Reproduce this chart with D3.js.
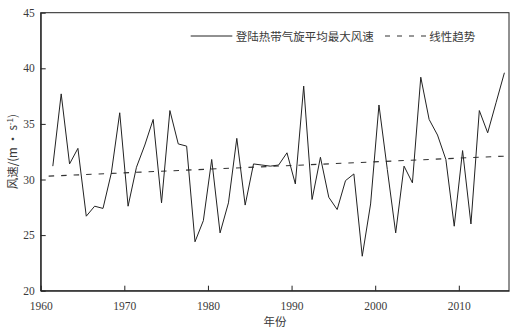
<!DOCTYPE html>
<html><head>
<meta charset="utf-8">
<title>登陆热带气旋平均最大风速</title>
<style>
  body { margin: 0; background: #fff; }
  svg text { fill: #3a3a3a; }
  .num { font-family: "Liberation Serif", "DejaVu Serif", serif; font-size: 11.5px; }
  .cjk { font-family: "Noto Sans CJK SC", sans-serif; font-size: 11.5px; }
  .domain, .tick line { stroke: #222; }
</style>
<script src="https://d3js.org/d3.v7.min.js"></script>
</head>
<body>
<div id="chart"></div>
<script>
// yearly values
const years = d3.range(1961, 2016);
const speed = [
  31.2, 37.7, 31.4, 32.8, 26.7, 27.6, 27.4, 30.6, 36.0, 27.6,
  31.1, 33.1, 35.4, 27.9, 36.2, 33.2, 33.0, 24.4, 26.3, 31.8,
  25.2, 27.9, 33.7, 27.7, 31.4, 31.3, 31.2, 31.3, 32.4, 29.6,
  38.4, 28.2, 32.0, 28.4, 27.3, 29.9, 30.5, 23.1, 27.8, 36.7,
  30.9, 25.2, 31.2, 29.7, 39.2, 35.4, 34.0, 31.8, 25.8, 32.6,
  26.0, 36.2, 34.2, 36.9, 39.6
];
const trendYears = [1960.5, 2015];
const trendValues = [30.3, 32.1];
const xTicks = [1960, 1970, 1980, 1990, 2000, 2010];
const yTicks = [20, 25, 30, 35, 40, 45];
const seriesName = "登陆热带气旋平均最大风速";
const trendName = "线性趋势";
const xOffset = 0.45; // points sit about half a year right of the tick

const W = 519, H = 333;
const m = {top: 12.7, right: 10, bottom: 42.3, left: 40.7};

const svg = d3.select("#chart").append("svg")
  .attr("width", W).attr("height", H);

const x = d3.scaleLinear().domain([1960, 2016]).range([m.left, W - m.right]);
const y = d3.scaleLinear().domain([20, 45]).range([H - m.bottom, m.top]);

// frame
svg.append("rect")
  .attr("x", x(1960)).attr("y", y(45))
  .attr("width", x(2016) - x(1960)).attr("height", y(20) - y(45))
  .attr("fill", "none").attr("stroke", "#222").attr("stroke-width", 1);

const gx = svg.append("g")
  .attr("transform", `translate(0,${y(20)})`)
  .call(d3.axisBottom(x).tickValues(xTicks).tickFormat(d3.format("d"))
    .tickSizeInner(-5).tickSizeOuter(0).tickPadding(11));
gx.selectAll("text").attr("class", "num");

const gy = svg.append("g")
  .attr("transform", `translate(${x(1960)},0)`)
  .call(d3.axisLeft(y).tickValues(yTicks)
    .tickSizeInner(-5).tickSizeOuter(0).tickPadding(6));
gy.selectAll("text").attr("class", "num");

// trend line
svg.append("path")
  .datum(trendYears.map((t, i) => [t, trendValues[i]]))
  .attr("fill", "none").attr("stroke", "#333").attr("stroke-width", 1.1)
  .attr("stroke-dasharray", "5.5,7")
  .attr("d", d3.line().x(d => x(d[0] + xOffset)).y(d => y(d[1])));

// data line
svg.append("path")
  .datum(years.map((t, i) => [t, speed[i]]))
  .attr("fill", "none").attr("stroke", "#222").attr("stroke-width", 1)
  .attr("stroke-linejoin", "miter")
  .attr("d", d3.line().x(d => x(d[0] + xOffset)).y(d => y(d[1])));

// legend
const lg = svg.append("g");
lg.append("line").attr("x1", 190.7).attr("x2", 232.3).attr("y1", 36).attr("y2", 36)
  .attr("stroke", "#222").attr("stroke-width", 1);
lg.append("text").attr("class", "cjk").attr("x", 235.7).attr("y", 40.5).text(seriesName);
lg.append("line").attr("x1", 385).attr("x2", 427).attr("y1", 36).attr("y2", 36)
  .attr("stroke", "#333").attr("stroke-width", 1.1).attr("stroke-dasharray", "5,7");
lg.append("text").attr("class", "cjk").attr("x", 429.3).attr("y", 40.5).text(trendName);

// axis titles
svg.append("text").attr("class", "cjk")
  .attr("x", 275).attr("y", 326).attr("text-anchor", "middle").text("年份");

const yt = svg.append("text").attr("class", "cjk")
  .attr("transform", `translate(16.5,${(y(20) + y(45)) / 2}) rotate(-90)`)
  .attr("text-anchor", "middle");
yt.append("tspan").text("风速/(m · s");
yt.append("tspan").attr("dy", -4).attr("font-size", "8px").text("-1");
yt.append("tspan").attr("dy", 4).text(")");
</script>
</body></html>
